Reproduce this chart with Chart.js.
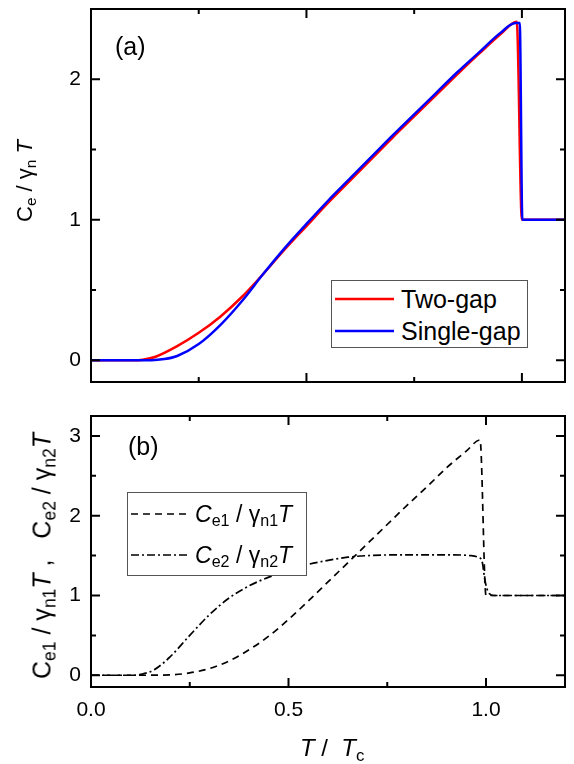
<!DOCTYPE html>
<html>
<head>
<meta charset="utf-8">
<script src="https://cdn.jsdelivr.net/npm/chart.js@4.4.1/dist/chart.umd.min.js"></script>
<style>
  body { margin: 0; background: #fff; font-family: "Liberation Sans", Arial, sans-serif; color: #000; }
  #wrap { position: relative; width: 574px; height: 764px; overflow: hidden; }
  canvas { position: absolute; left: 0; }
  .t { position: absolute; white-space: nowrap; line-height: 1; }
  .rot { transform: translate(-50%, -50%) rotate(-90deg); }
  sub { font-size: 70%; vertical-align: -0.28em; line-height: 0; }
  .legend { position: absolute; box-sizing: border-box; border: 1px solid #555; background: #fff; }
  .legend svg { position: absolute; left: 0; top: 0; }
  .legend .t { transform: translateY(-50%); }
</style>
</head>
<body>
<div id="wrap">
  <canvas id="chartA" width="574" height="395" style="top:0"></canvas>
  <canvas id="chartB" width="574" height="369" style="top:395px"></canvas>

  <div class="t" style="left:115px;top:34px;font-size:25px">(a)</div>
  <div class="t" style="left:128px;top:434px;font-size:25px">(b)</div>

  <div class="t rot" style="left:25px;top:181px;font-size:22px">C<sub>e</sub> / &gamma;<sub>n</sub> <i>T</i></div>
  <div class="t rot" style="left:42px;top:556px;font-size:25px">C<sub>e1</sub> / &gamma;<sub>n1</sub><i>T</i> ,&nbsp;&nbsp; C<sub>e2</sub> / &gamma;<sub>n2</sub><i>T</i></div>
  <div class="t" style="left:300px;top:736px;font-size:24px"><i>T</i> / &nbsp;<i>T</i><sub>c</sub></div>

  <div class="legend" style="left:331px;top:280px;width:197px;height:68px">
    <svg width="197" height="68">
      <line x1="3" y1="18" x2="62" y2="18" stroke="#ff0000" stroke-width="2.5"/>
      <line x1="3" y1="50" x2="62" y2="50" stroke="#0000ff" stroke-width="2.5"/>
    </svg>
    <div class="t" style="left:69px;top:18px;font-size:25px">Two-gap</div>
    <div class="t" style="left:69px;top:50px;font-size:25px">Single-gap</div>
  </div>

  <div class="legend" style="left:127px;top:492px;width:180px;height:84px">
    <svg width="180" height="84">
      <line x1="3" y1="21" x2="61" y2="21" stroke="#000" stroke-width="1.7" stroke-dasharray="7 5"/>
      <line x1="3" y1="62" x2="61" y2="62" stroke="#000" stroke-width="1.7" stroke-dasharray="8 3 2 3"/>
    </svg>
    <div class="t" style="left:67px;top:21px;font-size:23px"><i>C</i><sub>e1</sub> / &gamma;<sub>n1</sub><i>T</i></div>
    <div class="t" style="left:67px;top:62px;font-size:23px"><i>C</i><sub>e2</sub> / &gamma;<sub>n2</sub><i>T</i></div>
  </div>
</div>

<script>
// panel (a): C_e / gamma_n T vs T/Tc
const tTwo = [0, 0.05, 0.1, 0.12, 0.15, 0.2, 0.25, 0.3, 0.35, 0.4, 0.45, 0.5, 0.55, 0.6, 0.65, 0.7, 0.75, 0.8, 0.85, 0.9, 0.95, 0.988, 1.0, 1.05, 1.1];
const cTwo = [0, 0, 0, 0.004, 0.025, 0.1, 0.195, 0.31, 0.45, 0.615, 0.79, 0.955, 1.12, 1.275, 1.43, 1.585, 1.735, 1.885, 2.035, 2.18, 2.32, 2.41, 1.0, 1.0, 1.0];
const tSingle = [0, 0.05, 0.1, 0.14, 0.17, 0.2, 0.25, 0.3, 0.35, 0.4, 0.45, 0.5, 0.55, 0.6, 0.65, 0.7, 0.75, 0.8, 0.85, 0.9, 0.95, 0.985, 0.995, 1.001, 1.05, 1.1];
const cSingle = [0, 0, 0, 0, 0.008, 0.03, 0.115, 0.25, 0.42, 0.615, 0.8, 0.97, 1.135, 1.29, 1.445, 1.6, 1.75, 1.9, 2.05, 2.19, 2.33, 2.4, 2.4, 1.0, 1.0, 1.0];

// panel (b): band contributions
const tE1 = [0, 0.1, 0.2, 0.25, 0.3, 0.35, 0.4, 0.45, 0.5, 0.55, 0.6, 0.65, 0.7, 0.75, 0.8, 0.85, 0.9, 0.95, 0.985, 1.0, 1.1, 1.2];
const cE1 = [0, 0, 0.005, 0.03, 0.085, 0.18, 0.32, 0.49, 0.7, 0.93, 1.17, 1.41, 1.65, 1.89, 2.13, 2.36, 2.6, 2.81, 2.95, 1.0, 1.0, 1.0];
const tE2 = [0, 0.1, 0.13, 0.16, 0.2, 0.25, 0.3, 0.35, 0.4, 0.45, 0.5, 0.55, 0.6, 0.65, 0.7, 0.8, 0.9, 0.96, 0.98, 0.99, 0.997, 1.005, 1.02, 1.1, 1.2];
const cE2 = [0, 0, 0.015, 0.07, 0.23, 0.5, 0.76, 0.97, 1.12, 1.23, 1.31, 1.39, 1.44, 1.48, 1.5, 1.51, 1.51, 1.5, 1.48, 1.43, 1.2, 1.05, 1.0, 1.0, 1.0];

// ticks
const xMajorA = [0.5, 1.0], xMinorA = [0.25, 0.75];
const yMajorA = [0, 1, 2], yMinorA = [0.5, 1.5];
const xMajorB = [0, 0.5, 1.0], xMinorB = [0.25, 0.75];
const yMajorB = [0, 1, 2, 3], yMinorB = [0.5, 1.5, 2.5];

const FONT = '"Liberation Sans", Arial, sans-serif';
const pts = (xs, ys) => xs.map((x, i) => ({ x, y: ys[i] }));

// frame box + inward ticks on all four sides
function framePlugin(tk) {
  return {
    id: 'frame',
    afterDraw(chart) {
      const { ctx, chartArea: a, scales: { x, y } } = chart;
      ctx.save();
      ctx.strokeStyle = '#000';
      ctx.lineWidth = 2;
      ctx.strokeRect(a.left, a.top, a.right - a.left, a.bottom - a.top);
      ctx.beginPath();
      const xt = (v, len) => {
        const p = x.getPixelForValue(v);
        ctx.moveTo(p, a.bottom); ctx.lineTo(p, a.bottom - len);
        ctx.moveTo(p, a.top); ctx.lineTo(p, a.top + len);
      };
      const yt = (v, len) => {
        const p = y.getPixelForValue(v);
        ctx.moveTo(a.left, p); ctx.lineTo(a.left + len, p);
        ctx.moveTo(a.right, p); ctx.lineTo(a.right - len, p);
      };
      tk.xMajor.forEach(v => xt(v, 9));
      tk.xMinor.forEach(v => xt(v, 5));
      tk.yMajor.forEach(v => yt(v, 9));
      tk.yMinor.forEach(v => yt(v, 5));
      ctx.stroke();
      ctx.restore();
    }
  };
}

const lineDs = (data, color, width, dash, order) => ({
  data, borderColor: color, borderWidth: width, borderDash: dash || [], order: order || 0,
  pointRadius: 0, fill: false, cubicInterpolationMode: 'monotone'
});

const yFit = s => { s.width = 91; s.paddingTop = 0; s.paddingBottom = 0; };

new Chart(document.getElementById('chartA'), {
  type: 'line',
  data: {
    datasets: [
      lineDs(pts(tTwo, cTwo), '#ff0000', 2.5, null, 2),
      lineDs(pts(tSingle, cSingle), '#0000ff', 2.5, null, 1)
    ]
  },
  options: {
    responsive: false, animation: false, devicePixelRatio: 1,
    layout: { padding: { top: 9, right: 9, bottom: 13, left: 0 } },
    plugins: { legend: { display: false }, tooltip: { enabled: false } },
    scales: {
      x: { type: 'linear', min: 0, max: 1.1, display: false },
      y: {
        type: 'linear', min: -0.155, max: 2.5,
        grid: { display: false, drawTicks: false }, border: { display: false },
        afterBuildTicks: s => { s.ticks = yMajorA.map(v => ({ value: v })); },
        afterFit: yFit,
        ticks: { color: '#000', padding: 10, font: { family: FONT, size: 21 }, callback: v => String(v) }
      }
    }
  },
  plugins: [framePlugin({ xMajor: xMajorA, xMinor: xMinorA, yMajor: yMajorA, yMinor: yMinorA })]
});

new Chart(document.getElementById('chartB'), {
  type: 'line',
  data: {
    datasets: [
      lineDs(pts(tE1, cE1), '#000', 1.7, [7, 5]),
      lineDs(pts(tE2, cE2), '#000', 1.7, [8, 3, 2, 3])
    ]
  },
  options: {
    responsive: false, animation: false, devicePixelRatio: 1,
    layout: { padding: { top: 21, right: 9, bottom: 0, left: 0 } },
    plugins: { legend: { display: false }, tooltip: { enabled: false } },
    scales: {
      x: {
        type: 'linear', min: 0, max: 1.2,
        grid: { display: false, drawTicks: false }, border: { display: false },
        afterBuildTicks: s => { s.ticks = xMajorB.map(v => ({ value: v })); },
        afterFit: s => { s.height = 77; },
        ticks: { color: '#000', padding: 11, maxRotation: 0, font: { family: FONT, size: 21 }, callback: v => Number(v).toFixed(1) }
      },
      y: {
        type: 'linear', min: -0.147, max: 3.25,
        grid: { display: false, drawTicks: false }, border: { display: false },
        afterBuildTicks: s => { s.ticks = yMajorB.map(v => ({ value: v })); },
        afterFit: yFit,
        ticks: { color: '#000', padding: 10, font: { family: FONT, size: 21 }, callback: v => String(v) }
      }
    }
  },
  plugins: [framePlugin({ xMajor: xMajorB, xMinor: xMinorB, yMajor: yMajorB, yMinor: yMinorB })]
});
</script>
</body>
</html>
